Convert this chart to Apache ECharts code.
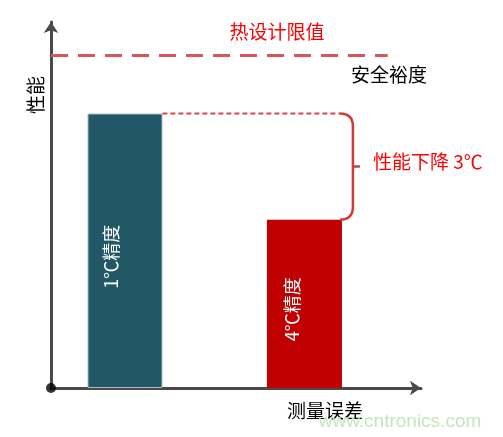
<!DOCTYPE html>
<html>
<head>
<meta charset="utf-8">
<script src="https://cdn.jsdelivr.net/npm/echarts@6/dist/echarts.min.js"></script>
<style>html,body{margin:0;padding:0;background:#fff;}#c{width:503px;height:437px;}</style>
</head>
<body>
<div id="c"></div>
<script>
// ---- data ----
var barNames = ['1℃精度', '4℃精度'];
var barX = [20, 68.5];          // bar centre on the x (value) axis
var barValues = [75, 46];        // performance
var thresholdValue = 91;         // 热设计限值
var thresholdEndX = 91;
var bracketStartX = 30.1;        // dotted line start (right edge of bar 1)
var bracketX = 81.6;             // x of bracket vertical
var dropLabel = '性能下降 3℃';
var yAxisName = '性能';
var xAxisName = '测量误差';
var thresholdLabel = '热设计限值';
var marginLabel = '安全裕度';

var CJK = '"Noto Sans CJK SC", "Noto Sans", sans-serif';
var chart = echarts.init(document.getElementById('c'), null, {renderer: 'canvas'});

var barData = [
  {value: [barX[0], barValues[0]], name: barNames[0],
   itemStyle: {color: '#225866', borderColor: '#a7bec4', borderWidth: 1},
   label: {offset: [-6, -13.5]}},
  {value: [barX[1], barValues[1]], name: barNames[1],
   itemStyle: {color: '#c00000'},
   label: {offset: [-5.5, -12.5]}}
];

chart.setOption({
  animation: false,
  grid: {left: 51, right: 82, top: 22, bottom: 49, containLabel: false},
  xAxis: {
    type: 'value', min: 0, max: 100,
    axisLine: {show: true, symbol: ['none', 'arrow'], symbolSize: [11, 11],
      lineStyle: {color: '#4a4a4a', width: 3}},
    axisTick: {show: false}, axisLabel: {show: false}, splitLine: {show: false}
  },
  yAxis: {
    type: 'value', min: 0, max: 100,
    axisLine: {show: true, symbol: ['none', 'arrow'], symbolSize: [11, 11],
      lineStyle: {color: '#4a4a4a', width: 3}},
    axisTick: {show: false}, axisLabel: {show: false}, splitLine: {show: false}
  },
  series: [
    {
      type: 'bar',
      barWidth: 75,
      data: barData,
      z: 1,
      label: {
        show: true, position: 'inside', rotate: 90,
        color: '#ffffff', fontSize: 18, fontFamily: CJK,
        formatter: function (p) { return p.name; }
      },
      markLine: {
        silent: true, symbol: 'none', label: {show: false},
        lineStyle: {color: '#dc5558', width: 3, type: [17, 10]},
        data: [[{coord: [0, thresholdValue]}, {coord: [thresholdEndX, thresholdValue]}]]
      }
    },
    {
      type: 'custom',
      data: [[bracketStartX, barValues[0], bracketX, barValues[1]]],
      z: 3,
      renderItem: function (params, api) {
        var a = api.coord([api.value(0), api.value(1)]);
        var b = api.coord([api.value(2), api.value(3)]);
        var x0 = a[0], yT = a[1], xv = b[0], yB = b[1];
        var r = 13;
        var ym = (yT + yB) / 2;
        var d = 'M' + (xv - r) + ' ' + yT +
          ' Q' + xv + ' ' + yT + ' ' + xv + ' ' + (yT + r) +
          ' L' + xv + ' ' + (yB - r) +
          ' Q' + xv + ' ' + yB + ' ' + (xv - r) + ' ' + yB +
          ' M' + xv + ' ' + ym + ' L' + (xv + 7) + ' ' + ym;
        return {
          type: 'group',
          children: [
            {type: 'line', shape: {x1: x0, y1: yT, x2: xv - r, y2: yT},
             style: {stroke: '#d7474a', lineWidth: 2, lineDash: [5, 3]}},
            {type: 'path', shape: {pathData: d},
             style: {stroke: '#d4393c', lineWidth: 2.5, fill: null}}
          ]
        };
      }
    },
    {
      type: 'scatter',
      data: [[0, 0]],
      symbolSize: 10,
      clip: false,
      z: 5,
      itemStyle: {color: '#000000'}
    }
  ],
  graphic: [
    {type: 'text', x: 277, y: 32, style: {text: thresholdLabel, fill: '#ff0000', font: '19px ' + CJK, textAlign: 'center', textVerticalAlign: 'middle'}},
    {type: 'text', x: 389, y: 75, style: {text: marginLabel, fill: '#000000', font: '19px ' + CJK, textAlign: 'center', textVerticalAlign: 'middle'}},
    {type: 'text', x: 373, y: 162, style: {text: dropLabel, fill: '#ff0000', font: '19px ' + CJK, textAlign: 'left', textVerticalAlign: 'middle'}},
    {type: 'text', x: 36, y: 95, rotation: Math.PI / 2, style: {text: yAxisName, fill: '#000000', font: '19px ' + CJK, textAlign: 'center', textVerticalAlign: 'middle'}},
    {type: 'text', x: 325, y: 411, style: {text: xAxisName, fill: '#000000', font: '19px ' + CJK, textAlign: 'center', textVerticalAlign: 'middle'}},
    {type: 'text', x: 400, y: 422, style: {text: 'www.cntronics.com', fill: '#c6e4bf', font: '19px "Liberation Sans", Arial, sans-serif', textAlign: 'center', textVerticalAlign: 'middle'}}
  ]
});
</script>
</body>
</html>
